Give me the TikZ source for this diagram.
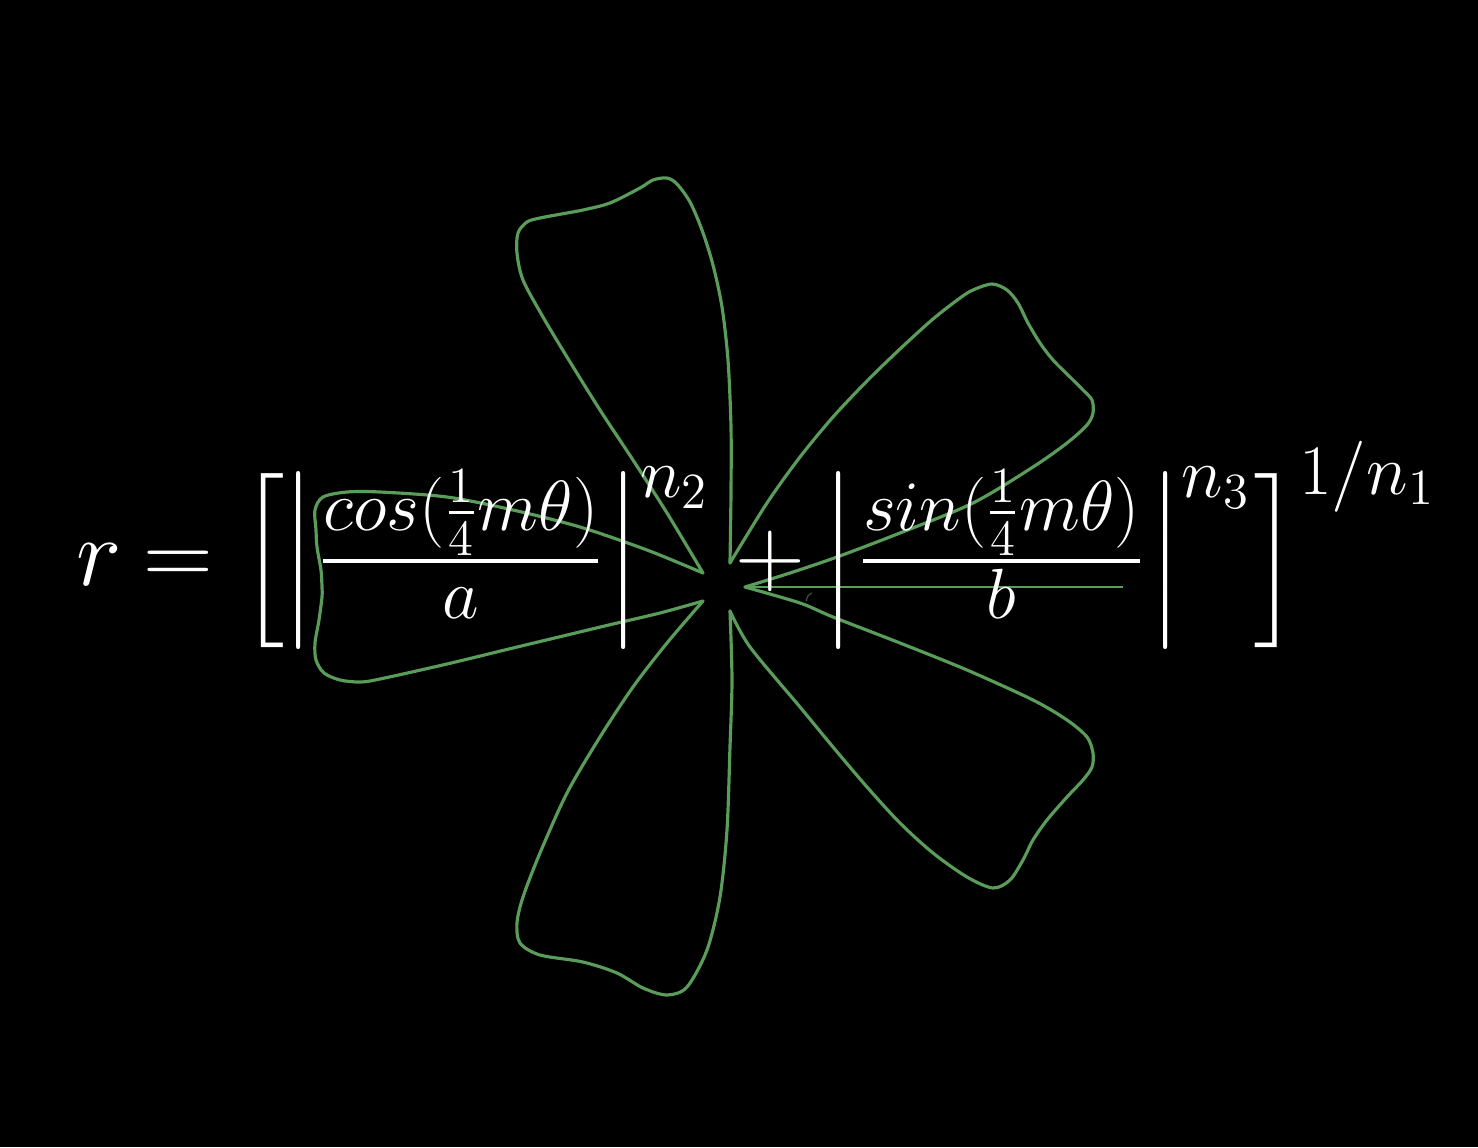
\RequirePackage{fix-cm}
\documentclass[tikz,border=0pt]{standalone}
\usepackage{amsmath,amssymb}
\usepackage{tikz}
\DeclareMathSizes{27.5}{27.5}{20.2}{14.4}
\definecolor{petal}{RGB}{90,156,90}

\begin{document}
\begin{tikzpicture}
		[
			x=0.01cm, y=0.01cm,
			curve/.style={draw=petal, line width=0.9pt, line join=round, line cap=round},
			trace/.style={draw=petal, line width=0.35pt},
			formula/.style={text=white, inner sep=0pt, font=\fontsize{27.5}{33}\selectfont}
		]

		% background
		\fill[black] (-722,-560) rectangle (756,587);

		% minima of r round the origin
		\coordinate (m0)   at (  23,   0);
		\coordinate (m72)  at (   8,  24);
		\coordinate (m144) at ( -19,  14);
		\coordinate (m216) at ( -19, -14);
		\coordinate (m288) at (   8, -24);
		\coordinate (tip)  at (-400,   0);
		\coordinate (ray)  at ( 401,   0);

		% petals
		\draw[curve] plot[smooth] coordinates {(m0) (68,14) (115,30) (178,54) (251,84) (311,120)
			(345,144) (365,162) (371,174) (370,187) (361,197) (348,210) (331,227) (318,244)
			(306,264) (296,284) (285,297) (270,303) (251,297) (238,289) (211,268) (178,238)
			(145,206) (111,170) (78,130) (45,84) (m72)};
		\draw[curve] plot[smooth] coordinates {(m72) (9,94) (9,160) (6,227) (0,280) (-9,322)
			(-20,357) (-32,385) (-45,403) (-55,409) (-69,407) (-82,399) (-112,384) (-139,377)
			(-155,374) (-182,369) (-195,365) (-204,354) (-205,334) (-199,307) (-179,270)
			(-155,230) (-122,177) (-89,127) (-55,74) (m144)};
		\draw[curve] plot[smooth] coordinates {(m144) (-75,37) (-142,60) (-209,77) (-275,90)
			(-342,95) (-375,95) (-399,90) (-407,77) (-406,57) (-405,40) (-401,17) (tip)
			(-400,-10) (-403,-33) (-407,-56) (-406,-73) (-398,-86) (-382,-93) (-362,-95)
			(-342,-92) (-275,-77) (-209,-61) (-159,-49) (-109,-37) (-62,-26) (m216)};
		\draw[curve] plot[smooth] coordinates {(m216) (-55,-56) (-89,-100) (-122,-150)
			(-155,-206) (-182,-266) (-199,-310) (-205,-336) (-202,-356) (-182,-368)
			(-139,-375) (-105,-386) (-79,-401) (-55,-408) (-35,-400) (-15,-363) (-2,-310)
			(5,-243) (8,-160) (10,-93) (m288)};
		\draw[curve] plot[smooth] coordinates {(m288) (28,-60) (78,-120) (111,-160) (145,-200)
			(178,-236) (211,-266) (245,-290) (271,-301) (288,-293) (301,-273) (311,-253)
			(325,-233) (345,-210) (361,-193) (370,-180) (371,-166) (365,-150) (345,-133)
			(311,-113) (245,-83) (178,-56) (111,-30) (78,-16) (m0)};

		% theta = 0 ray and a stray bit of glyph
		\draw[trace] (m0) -- (ray);
		\draw[trace, draw=petal!55!black, densely dashed] (90,-6) .. controls (83,-9) and (83,-16) .. (88,-19);

		% formula
		\node[formula, anchor=base west] (eq) at (-646,2)
			{$r\mkern-1mu = \left[\mkern-0.5mu \left|\mkern0.75mu \frac{cos(\frac{1}{4}m\theta)}{a}\mkern1mu \right|^{n_2}\mkern0.75mu
			+\mkern-0.75mu \left|\mkern0.75mu \frac{sin(\frac{1}{4}m\theta)}{b}\mkern1mu \right|^{n_3}\mkern0.4mu \right]^{1/n_1}$};

	\end{tikzpicture}
\end{document}
